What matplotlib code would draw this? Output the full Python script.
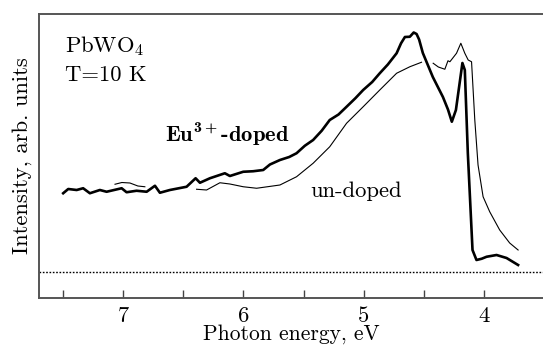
import numpy as np
import matplotlib
matplotlib.use('Agg')
import matplotlib.pyplot as plt
from matplotlib.ticker import MultipleLocator

plt.rcParams['font.family'] = 'cmr10'
plt.rcParams['mathtext.fontset'] = 'custom'
plt.rcParams['mathtext.rm'] = 'cmr10'
plt.rcParams['mathtext.it'] = 'cmmi10'
plt.rcParams['mathtext.bf'] = 'cmb10'
plt.rcParams['axes.formatter.use_mathtext'] = False

# Eu3+-doped PbWO4 (thick line): photon energy (eV), intensity (arb. units)
doped_e = [7.499, 7.457, 7.387, 7.333, 7.277, 7.194, 7.138, 7.013, 6.972, 6.889,
           6.805, 6.736, 6.695, 6.612, 6.473, 6.398, 6.362, 6.279, 6.155, 6.113,
           6.002, 5.920, 5.836, 5.780, 5.697, 5.620, 5.559, 5.490, 5.421, 5.350,
           5.283, 5.210, 5.143, 5.070, 5.005, 4.930, 4.867, 4.800, 4.727, 4.690,
           4.658, 4.617, 4.585, 4.561, 4.540, 4.509, 4.426, 4.342, 4.300, 4.268,
           4.234, 4.180, 4.160, 4.135, 4.096, 4.063, 4.020, 3.979, 3.896, 3.813,
           3.717]
doped_i = [31.5, 33.2, 32.8, 33.5, 31.5, 32.8, 32.1, 33.5, 31.9, 32.5,
           32.1, 34.5, 31.7, 32.8, 34.1, 37.5, 35.7, 37.5, 39.5, 38.4,
           40.1, 40.3, 40.8, 43.0, 44.8, 46.0, 47.5, 50.5, 52.8, 56.5,
           60.8, 63.0, 66.1, 69.5, 72.8, 76.0, 79.5, 83.0, 87.5, 91.5,
           94.0, 94.1, 95.8, 95.2, 93.0, 87.6, 78.0, 70.0, 65.0, 60.1,
           64.8, 83.6, 80.8, 47.6, 8.8, 4.8, 5.3, 6.1, 6.8, 5.6,
           2.8]

# un-doped PbWO4 (thin line), NaN where hidden / missing
undoped_e = [7.068, 7.011, 6.944, 6.878, 6.820, np.nan,
             6.390, 6.307, 6.196, 6.113, 6.002, 5.891, 5.697, 5.559, 5.421,
             5.283, 5.143, 5.005, 4.867, 4.727, 4.617, 4.520, np.nan,
             4.423, 4.380, 4.326, 4.300, 4.284, 4.229, 4.193, 4.160, 4.132,
             4.104, 4.077, 4.050, 4.008, 3.953, 3.870, 3.787, 3.717]
undoped_i = [35.1, 35.8, 35.6, 34.4, 34.1, np.nan,
             33.1, 32.8, 35.7, 35.2, 34.1, 33.5, 34.8, 38.1, 43.5,
             50.1, 59.5, 66.1, 72.8, 79.5, 82.1, 83.9, np.nan,
             83.5, 82.0, 81.1, 84.5, 84.1, 87.5, 91.5, 87.5, 84.8,
             84.1, 60.8, 42.8, 30.1, 24.1, 16.8, 11.6, 8.8]

major_ticks = [4, 5, 6, 7]
FS = 16.3

fig = plt.figure(figsize=(5.43, 3.45), dpi=100)
ax = fig.add_axes([39 / 543, 47 / 345, 504 / 543, 284 / 345])

ax.axhline(0, color='black', lw=1.0, ls=(0, (1.2, 1.2)))
ax.plot(undoped_e, undoped_i, color='black', lw=0.8)
ax.plot(doped_e, doped_i, color='black', lw=1.9)

ax.set_xlim(7.70, 3.51)
ax.set_ylim(-10.4, 103.2)
ax.set_xticks(major_ticks)
ax.xaxis.set_minor_locator(MultipleLocator(0.5))
ax.set_yticks([])
ax.tick_params(axis='x', which='both', direction='in', length=6, width=1,
               color='#444444', labelsize=FS, pad=6)
for s in ['left', 'top', 'bottom']:
    ax.spines[s].set_color('#555555')
    ax.spines[s].set_linewidth(1.4)
ax.spines['right'].set_visible(False)

ax.set_xlabel('Photon energy, eV', fontsize=15.5, labelpad=-1)
ax.set_ylabel('Intensity, arb. units', fontsize=FS, labelpad=5)

ax.text(0.0516, 0.864, r'PbWO$_4$', transform=ax.transAxes, fontsize=FS, va='baseline')
ax.text(0.0516, 0.764, 'T=10 K', transform=ax.transAxes, fontsize=FS, va='baseline')
ax.text(6.653, 52.1, r'Eu$^{\mathbf{3+}}$-doped', fontsize=FS, family='cmb10', va='baseline')
ax.text(5.448, 29.9, 'un-doped', fontsize=FS, va='baseline')

fig.savefig('out.png', dpi=100)
